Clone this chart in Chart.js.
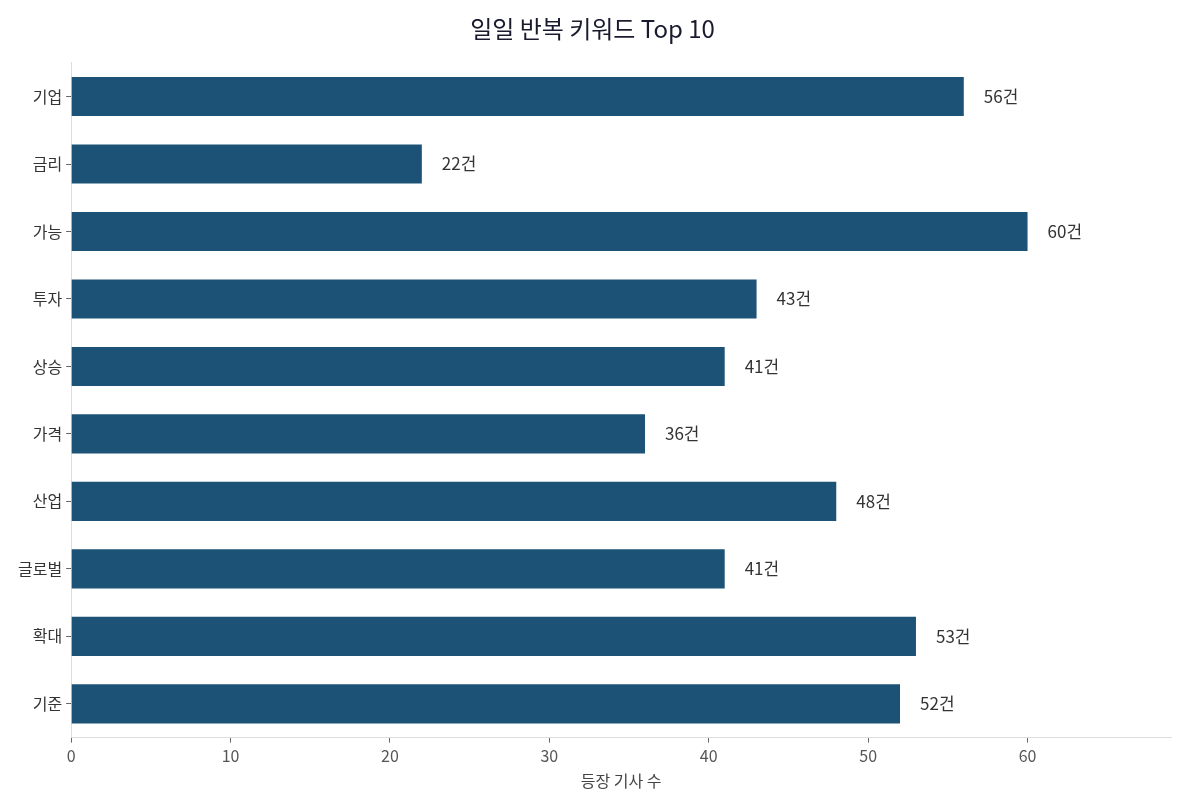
<!DOCTYPE html>
<html>
<head>
<meta charset="utf-8">
<script src="https://cdn.jsdelivr.net/npm/chart.js@4.4.1/dist/chart.umd.min.js"></script>
<style>
  html, body { margin: 0; padding: 0; background: #fff; }
  #wrap { width: 1185px; height: 809px; }
</style>
</head>
<body>
<div id="wrap"><canvas id="chart"></canvas></div>
<script>
const keywords = ['기업', '금리', '가능', '투자', '상승', '가격', '산업', '글로벌', '확대', '기준'];
const counts = [56, 22, 60, 43, 41, 36, 48, 41, 53, 52];
const xTicks = [0, 10, 20, 30, 40, 50, 60];

const fontFamily = "'Noto Sans CJK KR', 'Noto Sans', sans-serif";

// draws "56건" next to each bar end
const valueLabels = {
  id: 'valueLabels',
  afterDatasetsDraw(chart) {
    const ctx = chart.ctx;
    const meta = chart.getDatasetMeta(0);
    ctx.save();
    ctx.font = "17px " + fontFamily;
    ctx.fillStyle = '#333';
    ctx.textBaseline = 'middle';
    meta.data.forEach(function (bar, i) {
      ctx.fillText(counts[i] + '건', bar.x + 20, bar.y);
    });
    ctx.restore();
  }
};

new Chart(document.getElementById('chart'), {
  type: 'bar',
  data: {
    labels: keywords,
    datasets: [{
      data: counts,
      backgroundColor: '#1b5276',
      barPercentage: 0.58,
      categoryPercentage: 1.0
    }]
  },
  options: {
    indexAxis: 'y',
    responsive: true,
    maintainAspectRatio: false,
    animation: false,
    layout: { padding: { left: 14, right: 14, top: 4, bottom: 14 } },
    plugins: {
      legend: { display: false },
      tooltip: { enabled: false },
      title: {
        display: true,
        text: '일일 반복 키워드 Top 10',
        color: '#1a1a2e',
        font: { family: fontFamily, size: 24, weight: 'normal' },
        padding: { top: 10, bottom: 20 }
      }
    },
    scales: {
      x: {
        min: 0,
        max: 69,
        afterBuildTicks(axis) {
          axis.ticks = xTicks.map(v => ({ value: v }));
        },
        grid: { display: true, drawOnChartArea: false, drawTicks: true, tickLength: 5, tickColor: '#666' },
        border: { color: '#ddd' },
        ticks: { color: '#555', font: { family: fontFamily, size: 16 }, padding: 4 },
        title: {
          display: true,
          text: '등장 기사 수',
          color: '#444',
          font: { family: fontFamily, size: 16 },
          padding: { top: 2 }
        }
      },
      y: {
        grid: { display: true, drawOnChartArea: false, drawTicks: true, tickLength: 5, tickColor: '#666', offset: false },
        border: { color: '#ddd' },
        ticks: { color: '#333', font: { family: fontFamily, size: 16 }, padding: 4 }
      }
    }
  },
  plugins: [valueLabels]
});
</script>
</body>
</html>
